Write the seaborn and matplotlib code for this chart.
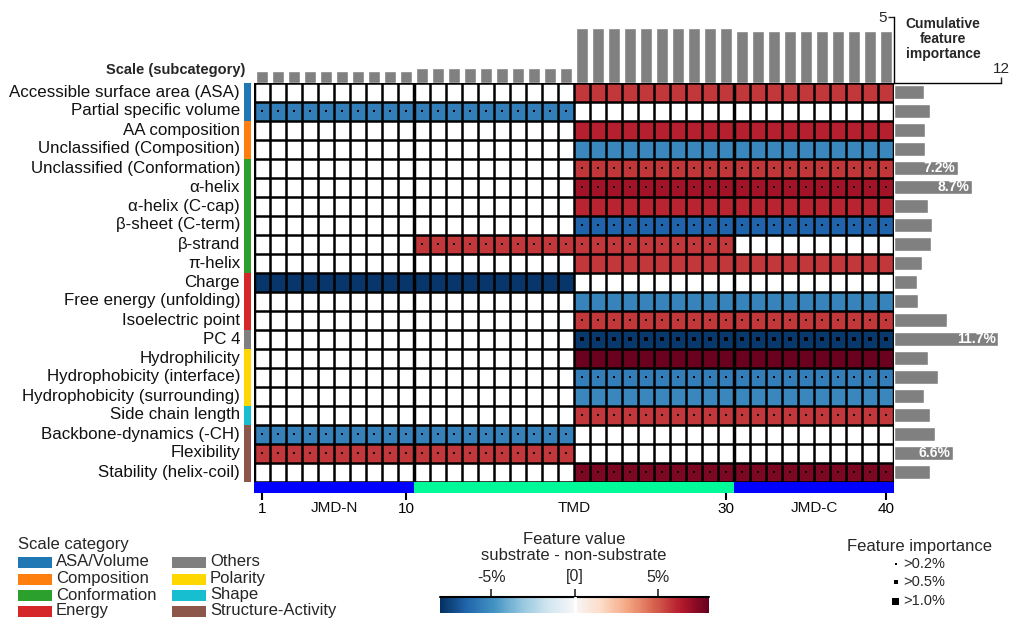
import numpy as np
import pandas as pd
import matplotlib
matplotlib.use("Agg")
import matplotlib.pyplot as plt
import seaborn as sns
from matplotlib.patches import Rectangle

sns.set_theme(style="white")
plt.rcParams['font.family'] = ['Liberation Sans', 'DejaVu Sans']

# ---------------- data ----------------
features = ["Accessible surface area (ASA)", "Partial specific volume", "AA composition",
            "Unclassified (Composition)", "Unclassified (Conformation)", "α-helix",
            "α-helix (C-cap)", "β-sheet (C-term)", "β-strand", "π-helix", "Charge",
            "Free energy (unfolding)", "Isoelectric point", "PC 4", "Hydrophilicity",
            "Hydrophobicity (interface)", "Hydrophobicity (surrounding)", "Side chain length",
            "Backbone-dynamics (-CH)", "Flexibility", "Stability (helix-coil)"]
feat_category = ["ASA/Volume", "ASA/Volume", "Composition", "Composition", "Conformation",
                 "Conformation", "Conformation", "Conformation", "Conformation", "Conformation",
                 "Energy", "Energy", "Energy", "Others", "Polarity", "Polarity", "Polarity",
                 "Shape", "Structure-Activity", "Structure-Activity", "Structure-Activity"]
feat_start = [21, 1, 21, 21, 21, 21, 21, 21, 11, 21, 1, 21, 21, 21, 21, 21, 21, 21, 1, 1, 21]
feat_stop = [40, 20, 40, 40, 40, 40, 40, 40, 30, 40, 20, 40, 40, 40, 40, 40, 40, 40, 20, 20, 40]
feat_value = [5.7, -5.6, 6.3, -5.3, 5.8, 6.8, 6.2, -6.5, 5.7, 5.7, -7.9, -5.4, 5.7, -7.8,
              8.0, -5.6, -5.3, 5.7, -5.5, 5.7, 7.6]
feat_importance = [3.4, 4.0, 3.5, 3.5, 7.2, 8.7, 3.8, 4.3, 4.1, 3.1, 2.6, 2.7, 5.9, 11.7,
                   3.8, 4.9, 3.4, 4.0, 4.6, 6.6, 4.0]
dot_level = [0, 1, 0, 0, 1, 1, 0, 1, 1, 0, 0, 0, 1, 2, 0, 1, 0, 1, 1, 1, 1]

positions = list(range(1, 41))
cum_importance = [0.89] * 10 + [1.10] * 10 + [4.14] * 10 + [3.92] * 10

cat_names = ["ASA/Volume", "Composition", "Conformation", "Energy",
             "Others", "Polarity", "Shape", "Structure-Activity"]
cat_colors = ["#1f77b4", "#ff7f0e", "#2ca02c", "#d62728",
              "#7f7f7f", "#ffd700", "#17becf", "#8c564b"]

dom_names = ["JMD-N", "TMD", "JMD-C"]
dom_start = [0, 10, 30]
dom_len = [10, 20, 10]
dom_colors = ["#0000ff", "#00fa9a", "#0000ff"]
pos_ticks = [1, 10, 30, 40]

# ---------------- layout helpers ----------------
W, H = 1018, 631
fig = plt.figure(figsize=(W / 100, H / 100), dpi=100)


def add_ax(x0, y0, x1, y1, **kw):
    return fig.add_axes([x0 / W, 1 - y1 / H, (x1 - x0) / W, (y1 - y0) / H], **kw)


def ftext(x, y, s, **kw):
    fig.text(x / W, 1 - y / H, s, **kw)


HX0, HX1, HY0, HY1 = 254, 894, 82.5, 481.5

# ---------------- main heatmap ----------------
n_rows, n_cols = len(features), len(positions)
M = np.full((n_rows, n_cols), np.nan)
for i in range(n_rows):
    M[i, feat_start[i] - 1:feat_stop[i]] = feat_value[i]
df = pd.DataFrame(M, index=features, columns=positions)

ax = add_ax(HX0, HY0, HX1, HY1)
ax.set_facecolor("white")
hm = sns.heatmap(df, cmap="RdBu_r", vmin=-8.1, vmax=8.1, cbar=False, ax=ax,
                 xticklabels=False, yticklabels=True)
ax.set_xlabel("")
ax.set_ylabel("")
ax.tick_params(axis="y", left=False, length=0, pad=10, labelsize=12.2, colors="#111111")
for lab in ax.get_yticklabels():
    lab.set_rotation(0)
for c in range(n_cols + 1):
    ax.axvline(c, color="black", lw=2.5 if c in (0, 10, 30, 40) else 1.8, zorder=3)
for r in range(n_rows + 1):
    ax.axhline(r, color="black", lw=1.8, zorder=3)

xs, ys, ss = [], [], []
for i in range(n_rows):
    if dot_level[i] > 0:
        for p in range(feat_start[i], feat_stop[i] + 1):
            xs.append(p - 0.5)
            ys.append(i + 0.5)
            ss.append(2.4 if dot_level[i] == 1 else 8)
ax.scatter(xs, ys, s=ss, marker="s", color="black", linewidths=0, zorder=4)

# ---------------- category strip ----------------
axc = add_ax(244, HY0, 251.5, HY1)
row_colors = [cat_colors[cat_names.index(c)] for c in feat_category]
axc.barh(range(n_rows), [1] * n_rows, height=1.0, color=row_colors, linewidth=0)
axc.set_ylim(n_rows - 0.5, -0.5)
axc.set_xlim(0, 1)
axc.axis("off")

# ---------------- top cumulative bars ----------------
axt = add_ax(HX0, 16.7, HX1, HY0)
sns.barplot(x=positions, y=cum_importance, color="#808080", saturation=1, width=0.8,
            ax=axt)
axt.set_xlim(-0.5, n_cols - 0.5)
axt.set_ylim(0, 5)
axt.set_xticks([])
axt.set_xlabel("")
axt.set_ylabel("")
for s in ["top", "bottom", "right"]:
    axt.spines[s].set_visible(False)
axt.spines["left"].set_position(("axes", 1.0))
axt.spines["left"].set_color("black")
axt.spines["left"].set_linewidth(1.0)
axt.set_yticks([5])
axt.tick_params(axis="y", left=True, length=4, width=1, labelsize=11, pad=1)
axt.patch.set_alpha(0)

# ---------------- right importance bars ----------------
axr = add_ax(HX1, HY0, 1001, HY1)
sns.barplot(x=feat_importance, y=features, orient="h", color="#808080", saturation=1,
            width=0.75, ax=axr)
axr.set_ylim(n_rows - 0.5, -0.5)
axr.set_xlim(0, 12)
axr.set_yticks([])
axr.set_xlabel("")
axr.set_ylabel("")
for s in ["bottom", "left", "right"]:
    axr.spines[s].set_visible(False)
axr.spines["top"].set_color("black")
axr.spines["top"].set_linewidth(1.0)
axr.xaxis.set_ticks_position("top")
axr.set_xticks([12])
axr.tick_params(axis="x", top=True, length=4, width=1, labelsize=11, pad=1)
axr.patch.set_alpha(0)
for i, v in enumerate(feat_importance):
    if v > 6:
        axr.text(v - 0.3, i, f"{v:.1f}%", ha="right", va="center", color="white",
                 fontsize=10, fontweight="bold")

ftext(943, 39, "Cumulative\nfeature\nimportance", ha="center", va="center",
      fontsize=10, fontweight="bold", linespacing=1.05)
ftext(245, 70, "Scale (subcategory)", ha="right", va="center", fontsize=10.5,
      fontweight="bold")

# ---------------- domain bar ----------------
axd = add_ax(HX0, 482, HX1, 492.7)
axd.barh([0] * 3, dom_len, left=dom_start, height=1.0, color=dom_colors, linewidth=0)
axd.set_xlim(0, n_cols)
axd.set_ylim(-0.5, 0.5)
axd.set_yticks([])
for s in axd.spines.values():
    s.set_visible(False)
axd.set_xticks([p - 0.5 for p in pos_ticks])
axd.set_xticklabels([str(p) for p in pos_ticks])
axd.tick_params(axis="x", bottom=True, length=5, width=1.5, labelsize=11, pad=2,
                colors="black")
for nm, st, ln in zip(dom_names, dom_start, dom_len):
    axd.text(st + ln / 2, -1.3, nm, ha="center", va="top", fontsize=11, color="#111111")

# ---------------- overlay for legends ----------------
axo = add_ax(0, 0, W, H)
axo.set_xlim(0, W)
axo.set_ylim(H, 0)
axo.axis("off")
axo.patch.set_alpha(0)
axo.set_zorder(-1)

# Scale category legend
axo.text(18, 545, "Scale category", ha="left", va="center", fontsize=12)
leg_rows = [562, 579, 595, 611]
for k, (nm, col) in enumerate(zip(cat_names, cat_colors)):
    colx = 18 if k < 4 else 172
    y = leg_rows[k % 4]
    axo.add_patch(Rectangle((colx, y - 5.5), 34, 11, color=col, lw=0))
    axo.text(colx + 38, y, nm, ha="left", va="center", fontsize=12)

# Feature value legend
ftext(574, 539, "Feature value", ha="center", va="center", fontsize=12)
ftext(574, 556, "substrate - non-substrate", ha="center", va="center", fontsize=12)
cax = add_ax(440, 597, 709, 613)
cb = fig.colorbar(hm.collections[0], cax=cax, orientation="horizontal", ticks=[-5, 0, 5])
cb.outline.set_visible(False)
cax.xaxis.set_ticks_position("top")
cax.set_xticklabels(["-5%", "[0]", "5%"])
cax.tick_params(axis="x", top=True, bottom=False, length=6, width=1.2, labelsize=11.5,
                pad=3)
cax.axhline(1, color="black", lw=1.5, clip_on=False)
cax.axvline(0, color="white", lw=2)

# Feature importance legend
axo.text(920, 546, "Feature importance", ha="center", va="center", fontsize=12)
imp_labels = [">0.2%", ">0.5%", ">1.0%"]
imp_sizes = [2.5, 4.5, 7]
for lab, sz, y in zip(imp_labels, imp_sizes, [564, 582, 601]):
    axo.add_patch(Rectangle((896 - sz / 2, y - sz / 2), sz, sz, color="black", lw=0))
    axo.text(903, y, lab, ha="left", va="center", fontsize=10.5)

fig.savefig("out.png", dpi=100)
